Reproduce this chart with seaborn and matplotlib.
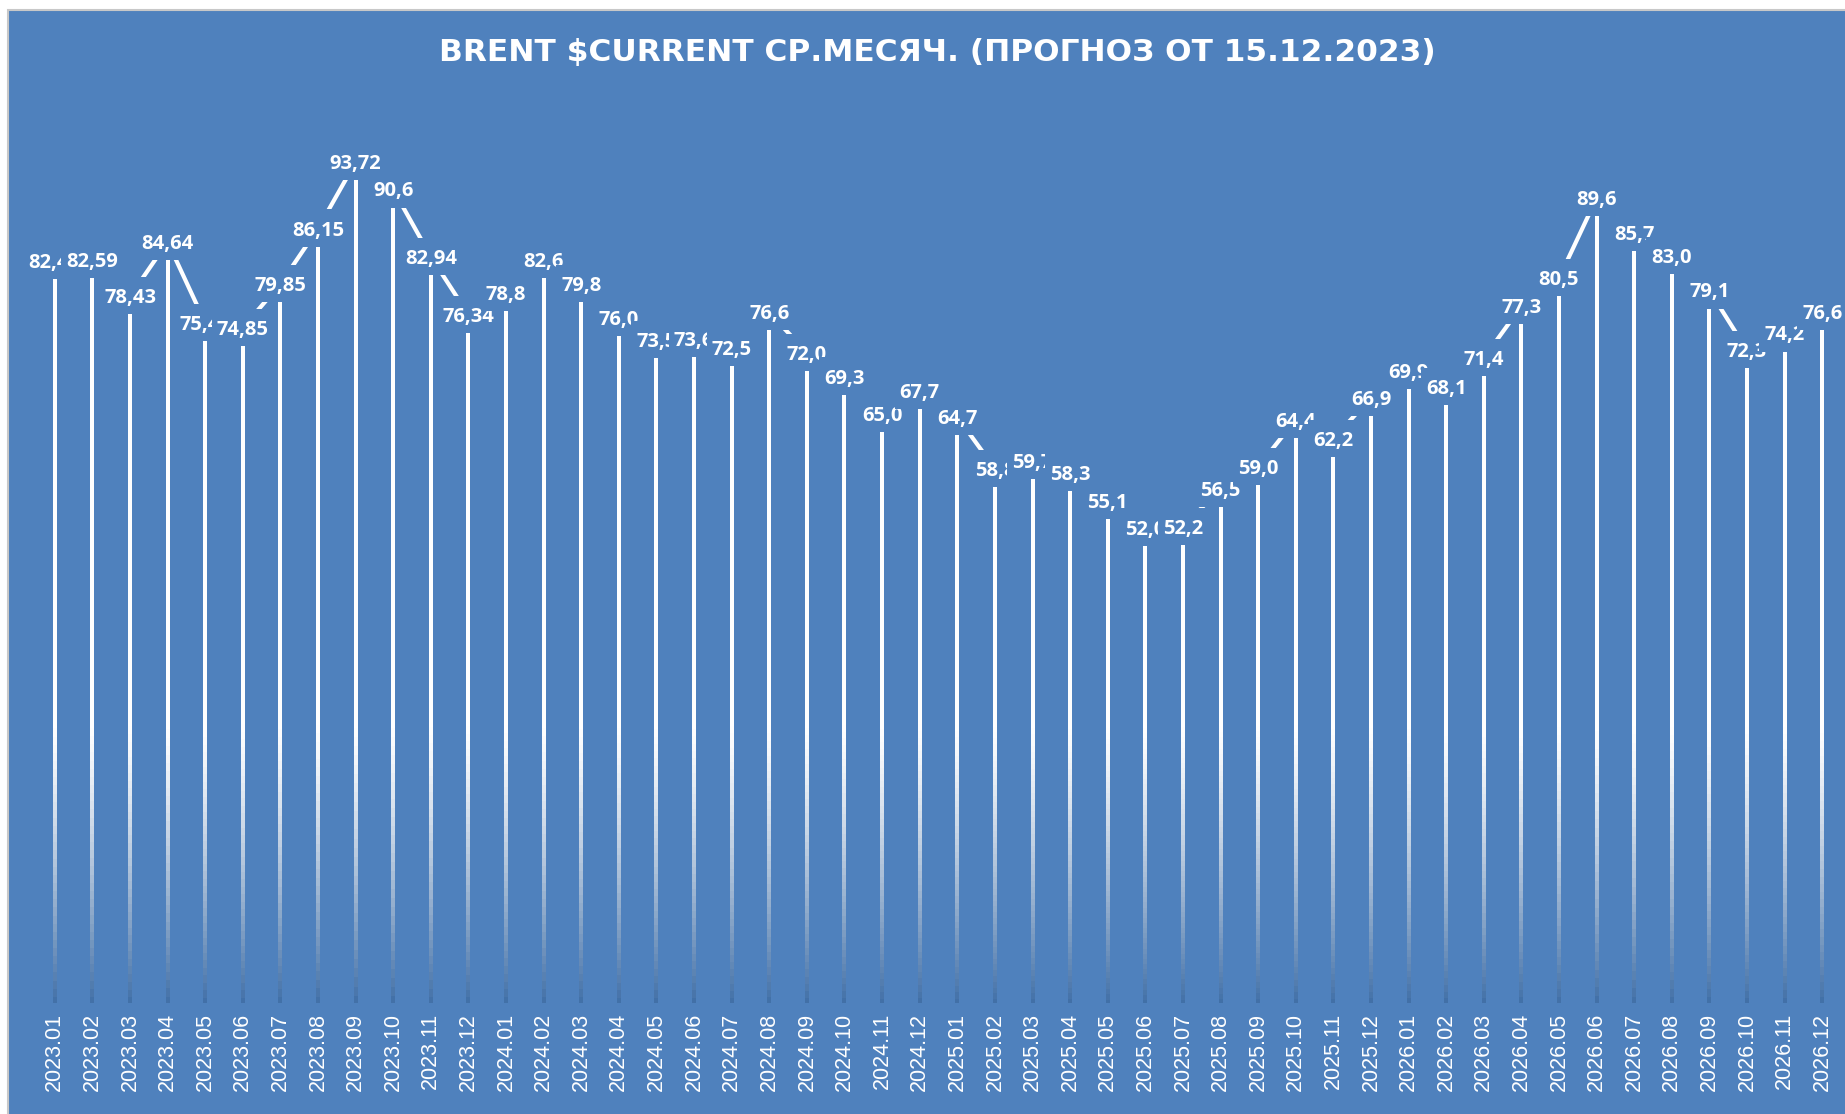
import numpy as np
import matplotlib
matplotlib.use('Agg')
import matplotlib.pyplot as plt
import matplotlib.transforms as mtransforms
from matplotlib.collections import LineCollection
from matplotlib.patches import Rectangle
from matplotlib.path import Path
from matplotlib.colors import to_rgb
import seaborn as sns

# ----------------------- Data -----------------------
months = ['2023.01', '2023.02', '2023.03', '2023.04', '2023.05', '2023.06',
          '2023.07', '2023.08', '2023.09', '2023.10', '2023.11', '2023.12',
          '2024.01', '2024.02', '2024.03', '2024.04', '2024.05', '2024.06',
          '2024.07', '2024.08', '2024.09', '2024.10', '2024.11', '2024.12',
          '2025.01', '2025.02', '2025.03', '2025.04', '2025.05', '2025.06',
          '2025.07', '2025.08', '2025.09', '2025.10', '2025.11', '2025.12',
          '2026.01', '2026.02', '2026.03', '2026.04', '2026.05', '2026.06',
          '2026.07', '2026.08', '2026.09', '2026.10', '2026.11', '2026.12']

prices_2023 = [82.44, 82.59, 78.43, 84.64, 75.41, 74.85, 79.85, 86.15, 93.72, 90.6, 82.94, 76.34]
prices_2024 = [78.8, 82.6, 79.8, 76.0, 73.5, 73.6, 72.5, 76.6, 72.0, 69.3, 65.0, 67.7]
prices_2025 = [64.7, 58.8, 59.7, 58.3, 55.1, 52.0, 52.2, 56.5, 59.0, 64.4, 62.2, 66.9]
prices_2026 = [69.9, 68.1, 71.4, 77.3, 80.5, 89.6, 85.7, 83.0, 79.1, 72.3, 74.2, 76.6]
prices = prices_2023 + prices_2024 + prices_2025 + prices_2026

title = 'BRENT $CURRENT СР.МЕСЯЧ. (ПРОГНОЗ ОТ 15.12.2023)'

BG = '#4F81BD'
LABEL_SIZE = 14.5

sns.set_theme(style='white')
plt.rcParams['font.family'] = ['Open Sans', 'DejaVu Sans']


def label_box(x0, y0, width, height, mutation_size):
    # Excel-like label box: more room above the text than at the sides
    left = x0 - 0.25 * mutation_size
    right = x0 + width + 0.25 * mutation_size
    bottom = y0 - 0.3 * mutation_size
    top = y0 + height + 0.55 * mutation_size
    return Path([(left, bottom), (right, bottom), (right, top), (left, top), (left, bottom)],
                closed=True)


# ----------------------- Figure -----------------------
fig = plt.figure(figsize=(18.45, 11.14), dpi=100, facecolor='white')
fig.add_artist(Rectangle((8 / 1845, -0.01), 1.02, 1104 / 1114 + 0.01, transform=fig.transFigure,
                         facecolor=BG, edgecolor='#C8C8C8', linewidth=1.5, zorder=-5))

ax = fig.add_axes([36 / 1845, 111 / 1114, 1805 / 1845, 878 / 1114])
ax.set_facecolor('none')

x = np.arange(len(prices))

# drop lines, white fading into the background towards the axis
white = np.array([1.0, 1.0, 1.0])
dark = np.array(to_rgb('#3F6EA6'))
segs, cols = [], []
for xi, v in zip(x, prices):
    ys = np.linspace(0, v, 90)
    for a, b in zip(ys[:-1], ys[1:]):
        segs.append([(xi, a), (xi, b)])
        t = np.clip((32 - (a + b) / 2) / 32, 0, 1) ** 1.3
        cols.append(white * (1 - t) + dark * t)
ax.add_collection(LineCollection(segs, colors=cols, linewidths=1.5, zorder=2,
                                 capstyle='projecting', antialiaseds=False))

# series line, sitting a bit above the points (mostly hidden by the label boxes)
shift = mtransforms.ScaledTranslation(0, 13 / 72, fig.dpi_scale_trans)
sns.lineplot(x=x, y=prices, ax=ax, color='white', linewidth=3,
             transform=ax.transData + shift, zorder=3)

# data labels
for i, v in enumerate(prices):
    txt = (f'{v:g}' if i < 12 else f'{v:.1f}').replace('.', ',')
    ax.annotate(txt, (i, v), xytext=(0, 0.3 * LABEL_SIZE), textcoords='offset points',
                ha='center', va='bottom', color='white', fontsize=LABEL_SIZE, fontweight='bold',
                family='Open Sans', bbox=dict(boxstyle=label_box, fc=BG, ec='none'), zorder=4)

ax.set_xlim(-0.5, len(prices) - 0.5)
ax.set_ylim(0, 100)
ax.set_xticks(x)
ax.set_xticklabels(months, rotation=90, fontsize=15.5, color='white', family='Liberation Sans')
ax.tick_params(axis='x', length=0, pad=7)
ax.set_yticks([])
ax.set_xlabel('')
ax.set_ylabel('')
for s in ax.spines.values():
    s.set_visible(False)

fig.text(937 / 1845, 1 - 52.5 / 1114, title, ha='center', va='center', color='white',
         fontsize=22.5, fontweight='bold', family='DejaVu Sans')

plt.savefig('out.png', dpi=100, facecolor='white')
